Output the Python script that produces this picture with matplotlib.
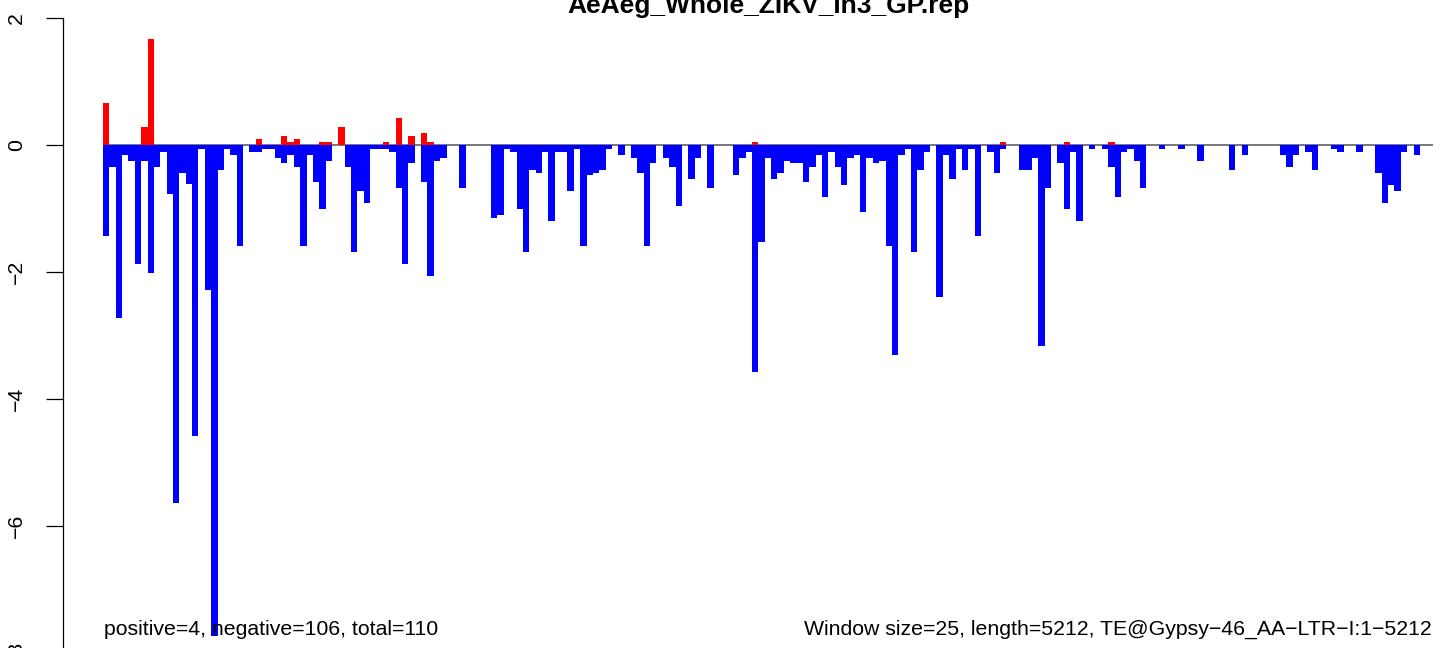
import matplotlib
matplotlib.use("Agg")
import matplotlib.pyplot as plt
import numpy as np

plt.rcParams['font.family'] = ['Liberation Sans', 'DejaVu Sans']

title = "AeAeg_Whole_ZIKV_In3_GP.rep"
left_note = "positive=4, negative=106, total=110"
right_note = "Window size=25, length=5212, TE@Gypsy\u221246_AA\u2212LTR\u2212I:1\u22125212"
yticks = [2, 0, -2, -4, -6, -8]
ytick_labels = ["2", "0", "\u22122", "\u22124", "\u22126", "\u22128"]

n_windows = 209

# positive (red) values by window index
pos_idx = [0, 6, 7, 24, 28, 29, 30, 34, 35, 37, 44, 46, 48, 50, 51, 102, 141, 151, 158]
pos_val = [0.66, 0.28, 1.67, 0.09, 0.14, 0.05, 0.09, 0.05, 0.05, 0.28, 0.05, 0.43, 0.14, 0.19, 0.05, 0.05, 0.05, 0.05, 0.05]

# negative (blue) values, one per window
neg_val = [
    -1.43, -0.34, -2.72, -0.15, -0.25, -1.87, -0.25, -2.01, -0.34, -0.11,
    -0.77, -5.63, -0.44, -0.62, -4.58, -0.06, -2.29, -7.74, -0.39, -0.06,
    -0.16, -1.59, 0, -0.11, -0.11, -0.06, -0.06, -0.20, -0.29, -0.15,
    -0.34, -1.59, -0.15, -0.58, -1.00, -0.25, 0, 0, -0.34, -1.68,
    -0.72, -0.91, -0.06, -0.06, -0.06, -0.11, -0.67, -1.87, -0.29, 0,
    -0.58, -2.06, -0.25, -0.20, 0, 0, -0.67, 0, 0, 0,
    0, -1.15, -1.10, -0.06, -0.11, -1.00, -1.68, -0.39, -0.44, -0.11,
    -1.19, -0.11, -0.11, -0.72, -0.06, -1.59, -0.48, -0.44, -0.39, -0.06,
    0, -0.15, 0, -0.20, -0.44, -1.59, -0.29, 0, -0.20, -0.34,
    -0.96, 0, -0.53, -0.20, 0, -0.67, 0, 0, 0, -0.48,
    -0.20, -0.11, -3.58, -1.53, -0.20, -0.53, -0.44, -0.25, -0.29, -0.29,
    -0.58, -0.34, -0.15, -0.82, -0.11, -0.34, -0.63, -0.20, -0.15, -1.05,
    -0.20, -0.29, -0.25, -1.59, -3.31, -0.15, -0.06, -1.68, -0.39, -0.11,
    0, -2.39, -0.15, -0.53, -0.06, -0.39, -0.06, -1.43, 0, -0.11,
    -0.44, -0.06, 0, 0, -0.39, -0.39, -0.20, -3.17, -0.67, 0,
    -0.29, -1.00, -0.11, -1.19, 0, -0.06, 0, -0.06, -0.34, -0.82,
    -0.11, -0.06, -0.25, -0.67, 0, 0, -0.06, 0, 0, -0.06,
    0, 0, -0.25, 0, 0, 0, 0, -0.39, 0, -0.15,
    0, 0, 0, 0, 0, -0.15, -0.34, -0.15, 0, -0.11,
    -0.39, 0, 0, -0.06, -0.11, 0, 0, -0.11, 0, 0,
    -0.44, -0.91, -0.63, -0.72, -0.11, 0, -0.15, 0, 0,
]

W, H = 1444, 648
fig = plt.figure(figsize=(W / 100, H / 100), dpi=100)

# pixel geometry of the plotting area
ax_left_px = 63
bar0_px = 103.0
bar_w_px = 6.362
zero_px = 145.0
unit_px = 63.5
label_center_px = 16.5

ax = fig.add_axes([ax_left_px / W, 0, (W - ax_left_px) / W, 1])
ax.set_xlim((ax_left_px - bar0_px) / bar_w_px, (W - bar0_px) / bar_w_px)
ax.set_ylim((zero_px - H) / unit_px, zero_px / unit_px)

x = np.arange(n_windows)
pos_full = np.zeros(n_windows)
pos_full[pos_idx] = pos_val
neg_full = np.array(neg_val + [0] * (n_windows - len(neg_val)))

ax.hlines(0, 0, n_windows, color="#6e6e6e", linewidth=1.3, zorder=1)
ax.bar(x, pos_full, width=1.0, align="edge", color="#ff0000", linewidth=0, zorder=2)
ax.bar(x, neg_full, width=1.0, align="edge", color="#0000ff", linewidth=0, zorder=2)

for s in ["top", "right", "bottom"]:
    ax.spines[s].set_visible(False)
ax.spines["left"].set_bounds(-8, 2)
ax.spines["left"].set_linewidth(0.9)
ax.set_xticks([])
ax.set_yticks(yticks[:-1])
ax.set_yticklabels(ytick_labels[:-1], rotation=90, va="center", ha="center", fontsize=15.3)
ax.tick_params(axis="y", length=12, width=0.9, pad=21.5)
# last tick label (just below the visible area, partly cut like the reference)
ax.text((label_center_px - bar0_px) / bar_w_px, -8, ytick_labels[-1], rotation=90,
        va="center", ha="center", fontsize=15.3, clip_on=False)

fig.text(768.5 / W, 1 - 12.5 / H, title, ha="center", va="baseline", fontsize=19, fontweight="bold")
fig.text(104 / W, 1 - 635 / H, left_note, ha="left", va="baseline", fontsize=15.3)
fig.text(1432 / W, 1 - 635 / H, right_note, ha="right", va="baseline", fontsize=15.3)

fig.savefig("out.png", dpi=100)
